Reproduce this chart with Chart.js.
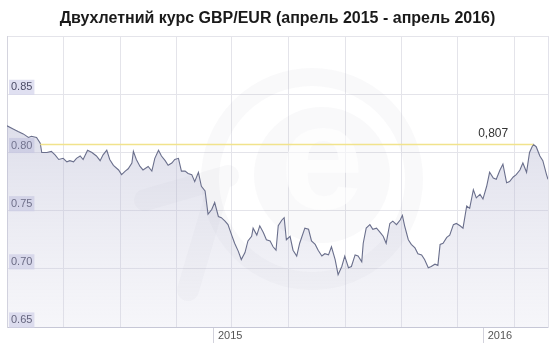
<!DOCTYPE html>
<html>
<head>
<meta charset="utf-8">
<script src="https://cdn.jsdelivr.net/npm/chart.js@4/dist/chart.umd.min.js"></script>
<style>
    body { margin: 0; background: #fff; }
    #wrap { width: 555px; height: 350px; position: relative; }
</style>
</head>
<body>
<div id="wrap"><canvas id="rateChart"></canvas></div>
<script>
// GBP/EUR, days counted from 1 Jan 2015
const days = [-280, -271, -265, -258, -251, -247, -240, -235, -233, -226, -220, -215, -210, -204, -199, -195,
    -190, -186, -181, -177, -171, -165, -159, -154, -150, -145, -141, -136, -129, -125, -120, -116,
    -111, -109, -105, -100, -96, -89, -84, -80, -75, -71, -66, -62, -57, -53, -48, -44,
    -39, -35, -30, -26, -21, -17, -12, -8, -3, 1, 6, 10, 15, 19, 24, 28,
    33, 37, 42, 46, 51, 53, 58, 62, 67, 71, 76, 80, 84, 87, 92, 95,
    98, 103, 107, 112, 116, 123, 128, 132, 137, 141, 146, 150, 155, 159, 164, 168,
    173, 177, 182, 186, 191, 195, 200, 202, 206, 211, 215, 220, 224, 229, 233, 238,
    242, 247, 252, 255, 258, 263, 267, 272, 276, 281, 285, 290, 294, 299, 303, 306,
    310, 315, 319, 324, 328, 333, 337, 342, 346, 351, 355, 360, 364, 369, 373, 378,
    382, 387, 391, 396, 400, 405, 409, 414, 418, 423, 427, 432, 436, 441, 445, 450, 452];
const rates = [0.823, 0.820, 0.818, 0.816, 0.813, 0.814, 0.813, 0.808, 0.800, 0.800, 0.801, 0.798, 0.794, 0.795, 0.792, 0.793,
    0.792, 0.795, 0.797, 0.794, 0.802, 0.800, 0.797, 0.793, 0.798, 0.802, 0.794, 0.789, 0.785, 0.781, 0.784, 0.786,
    0.791, 0.801, 0.794, 0.788, 0.785, 0.788, 0.784, 0.795, 0.802, 0.797, 0.793, 0.789, 0.791, 0.794, 0.795, 0.784,
    0.784, 0.782, 0.781, 0.775, 0.783, 0.771, 0.767, 0.747, 0.751, 0.757, 0.745, 0.744, 0.741, 0.738, 0.729, 0.722,
    0.715, 0.708, 0.714, 0.724, 0.728, 0.735, 0.729, 0.737, 0.731, 0.725, 0.724, 0.719, 0.716, 0.737, 0.742, 0.744,
    0.725, 0.728, 0.716, 0.711, 0.722, 0.735, 0.734, 0.724, 0.721, 0.716, 0.711, 0.713, 0.712, 0.719, 0.708, 0.695,
    0.702, 0.711, 0.701, 0.702, 0.712, 0.711, 0.706, 0.722, 0.735, 0.738, 0.734, 0.735, 0.732, 0.728, 0.722, 0.739,
    0.741, 0.738, 0.742, 0.746, 0.737, 0.725, 0.721, 0.718, 0.713, 0.712, 0.708, 0.701, 0.702, 0.704, 0.703, 0.721,
    0.722, 0.727, 0.729, 0.738, 0.739, 0.737, 0.735, 0.754, 0.752, 0.768, 0.761, 0.764, 0.760, 0.771, 0.783, 0.778,
    0.777, 0.785, 0.790, 0.774, 0.775, 0.779, 0.781, 0.785, 0.791, 0.783, 0.800, 0.807, 0.805, 0.797, 0.793, 0.781, 0.777];

// max marker line
const maxRate = 0.807;
const maxLabel = '0,807';
const maxLineDays = [-235, 432];

// axes
const gridDays = [-204, -127, -51, 24, 101, 178, 254, 330, 407];
const yearDays = [0, 365];
const yearLabels = ['2015', '2016'];
const yTicks = [0.65, 0.70, 0.75, 0.80, 0.85, 0.90];

const points = days.map((d, i) => ({ x: d, y: rates[i] }));
const maxLine = maxLineDays.map(d => ({ x: d, y: maxRate }));

function areaFill(context) {
    const { ctx, chartArea } = context.chart;
    if (!chartArea) return 'rgba(200,200,220,0.4)';
    const g = ctx.createLinearGradient(0, chartArea.top, 0, chartArea.bottom);
    g.addColorStop(0, 'rgba(160,162,196,0.5)');
    g.addColorStop(1, 'rgba(205,205,225,0.18)');
    return g;
}

// faint "xe" watermark and the max value label
const extras = {
    id: 'extras',
    beforeDatasetsDraw(chart) {
        const { ctx } = chart;
        const shade = 'rgba(120,120,150,0.045)';
        ctx.save();
        ctx.strokeStyle = shade;
        ctx.lineWidth = 18;
        ctx.beginPath();
        ctx.arc(312, 179, 102, 0, Math.PI * 2);
        ctx.stroke();

        ctx.fillStyle = shade;
        ctx.beginPath();
        ctx.arc(322, 175, 68, 0, Math.PI * 2);
        ctx.fill();

        ctx.font = 'bold 150px "Liberation Sans", Arial, sans-serif';
        ctx.textAlign = 'center';
        ctx.textBaseline = 'middle';
        ctx.fillStyle = 'rgba(255,255,255,0.6)';
        ctx.fillText('e', 322, 168);

        ctx.strokeStyle = shade;
        ctx.lineWidth = 22;
        ctx.lineCap = 'round';
        ctx.beginPath();
        ctx.moveTo(145, 200);
        ctx.lineTo(228, 176);
        ctx.moveTo(188, 290);
        ctx.lineTo(220, 182);
        ctx.stroke();
        ctx.restore();
    },
    afterDatasetsDraw(chart) {
        const { ctx, scales } = chart;
        const px = scales.x.getPixelForValue(maxLineDays[1]);
        const py = scales.y.getPixelForValue(maxRate);
        ctx.save();
        ctx.font = '12px "Liberation Sans", Arial, sans-serif';
        ctx.fillStyle = '#333';
        ctx.textAlign = 'right';
        ctx.textBaseline = 'middle';
        ctx.fillText(maxLabel, px - 25, py - 11);
        ctx.restore();
    }
};

new Chart(document.getElementById('rateChart'), {
    type: 'line',
    data: {
        datasets: [
            {
                data: points,
                borderColor: '#6a6f8c',
                borderWidth: 1.1,
                pointRadius: 0,
                tension: 0,
                fill: 'start',
                backgroundColor: areaFill,
                order: 1
            },
            {
                data: maxLine,
                borderColor: '#f1e38c',
                borderWidth: 1.5,
                pointRadius: 0,
                fill: false,
                order: 0
            }
        ]
    },
    options: {
        responsive: true,
        maintainAspectRatio: false,
        animation: false,
        layout: { padding: { left: 7, right: 7 } },
        plugins: {
            legend: { display: false },
            tooltip: { enabled: false },
            title: {
                display: true,
                text: 'Двухлетний курс GBP/EUR (апрель 2015 - апрель 2016)',
                color: '#1a1a1a',
                font: { family: '"Liberation Sans", Arial, sans-serif', size: 16, weight: 'bold' },
                padding: { top: 9, bottom: 8 }
            }
        },
        scales: {
            x: {
                type: 'linear',
                min: -280,
                max: 452,
                afterBuildTicks: scale => {
                    scale.ticks = [...gridDays, ...yearDays].map(v => ({ value: v }));
                },
                afterFit: scale => { scale.height = 23; },
                grid: {
                    color: c => yearDays.includes(c.tick.value) ? 'rgba(0,0,0,0)' : '#e4e4ea',
                    tickColor: c => yearDays.includes(c.tick.value) ? '#d2d2dc' : 'rgba(0,0,0,0)',
                    tickLength: 16
                },
                border: { color: '#c6c7d6' },
                ticks: {
                    autoSkip: false,
                    maxRotation: 0,
                    align: 'start',
                    labelOffset: 4,
                    padding: -14,
                    color: '#555',
                    font: { family: '"Liberation Sans", Arial, sans-serif', size: 11 },
                    callback: v => {
                        const i = yearDays.indexOf(v);
                        return i >= 0 ? yearLabels[i] : '';
                    }
                }
            },
            y: {
                type: 'linear',
                position: 'left',
                min: 0.65,
                max: 0.90,
                afterBuildTicks: scale => {
                    scale.ticks = yTicks.map(v => ({ value: v }));
                },
                afterFit: scale => { scale.width = 0; },
                grid: { color: '#e4e4ea', drawTicks: false },
                border: { color: '#d4d4de' },
                ticks: {
                    mirror: true,
                    padding: 4,
                    labelOffset: -7,
                    color: '#4c4c66',
                    font: { family: '"Liberation Sans", Arial, sans-serif', size: 11 },
                    showLabelBackdrop: true,
                    backdropColor: c => c.tick.value > 0.89 ? 'rgba(0,0,0,0)' : 'rgba(214,214,236,0.75)',
                    backdropPadding: { x: 2, y: 1 },
                    callback: v => v > 0.89 ? '' : v.toFixed(2)
                }
            },
            yRight: {
                type: 'linear',
                position: 'right',
                min: 0.65,
                max: 0.90,
                afterFit: scale => { scale.width = 0; },
                grid: { display: false },
                border: { color: '#e2e2ea' },
                ticks: { display: false }
            }
        }
    },
    plugins: [extras]
});
</script>
</body>
</html>
